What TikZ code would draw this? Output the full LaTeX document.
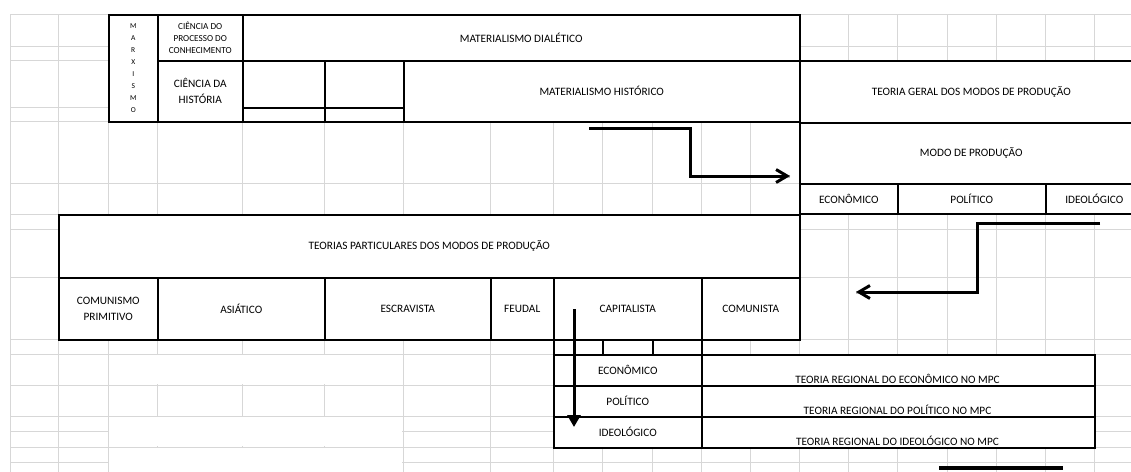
\documentclass[tikz,border=0pt]{standalone}
\usepackage{fontspec}
\setmainfont{Carlito}
\usetikzlibrary{arrows.meta}
\definecolor{gridgray}{RGB}{215,215,215}
\begin{document}
\begin{tikzpicture}[x=1pt,y=-1pt,
  gridline/.style={draw=gridgray,line width=1pt},
  cell/.style={draw=black,line width=1.5pt,fill=white,anchor=north west,inner sep=0pt,
    align=center,font=\fontsize{11.3}{15.5}\selectfont},
  lbl/.style={inner sep=0pt,align=center,font=\fontsize{11.3}{15.5}\selectfont},
  arr/.style={line width=3pt,-{Straight Barb[length=11pt,width=13pt]}},
  arrtri/.style={line width=3pt,-{Triangle[length=12pt,width=13pt]}},
  shadowline/.style={draw=black!25,line width=3pt}]
\useasboundingbox (0,0) rectangle (1131,471);
\clip (0,0) rectangle (1131,471);
% spreadsheet grid
\foreach \y in {14,46,60,107,121,183,214,229,277,339,354,385,416,431,447,462}
  \draw[gridline] (10,\y) -- (1145,\y);
\foreach \x in {10,58,108,157,242,324,403,490,553,602,652,701,750,799,848,897,947,996,1045,1094}
  \draw[gridline] (\x,14) -- (\x,480);
% merged cells without border
\fill[white] (108.6,354.6) rectangle (402.4,384.4);
\fill[white] (108.6,416.6) rectangle (402.4,446.4);
\fill[white] (108.6,447.6) rectangle (402.4,480);
% top block
\node[cell,minimum width=49pt,minimum height=107pt,font=\fontsize{7.5}{12}\selectfont] (marx) at (108,14) {M\\A\\R\\X\\I\\S\\M\\O};
\node[cell,minimum width=85pt,minimum height=46pt,font=\fontsize{9.2}{11.8}\selectfont] (cpc) at (157,14) {CIÊNCIA DO\\PROCESSO DO\\CONHECIMENTO};
\node[cell,minimum width=85pt,minimum height=61pt,font=\fontsize{11.3}{16}\selectfont] (ch) at (157,60) {CIÊNCIA DA\\HISTÓRIA};
\node[cell,minimum width=557pt,minimum height=46pt] (md) at (242,14) {MATERIALISMO DIALÉTICO};
\node[cell,minimum width=82pt,minimum height=47pt] (e1) at (242,60) {};
\node[cell,minimum width=82pt,minimum height=14pt] (e2) at (242,107) {};
\node[cell,minimum width=79pt,minimum height=47pt] (f1) at (324,60) {};
\node[cell,minimum width=79pt,minimum height=14pt] (f2) at (324,107) {};
\node[cell,minimum width=396pt,minimum height=61pt] (mh) at (403,60) {MATERIALISMO HISTÓRICO};
% right block
\node[cell,minimum width=343pt,minimum height=62pt] (tg) at (799,60) {TEORIA GERAL DOS MODOS DE PRODUÇÃO};
\node[cell,minimum width=343pt,minimum height=61pt] (mp) at (799,122) {MODO DE PRODUÇÃO};
\node[cell,minimum width=98pt,minimum height=30pt] (eco) at (799,183) {ECONÔMICO};
\node[cell,minimum width=148pt,minimum height=30pt] (pol) at (897,183) {POLÍTICO};
\node[cell,minimum width=97pt,minimum height=30pt] (ideo) at (1045,183) {IDEOLÓGICO};
% particular theories
\node[cell,minimum width=741pt,minimum height=63pt] (tp) at (58,214) {TEORIAS PARTICULARES DOS MODOS DE PRODUÇÃO};
\node[cell,minimum width=99pt,minimum height=62pt] (cp) at (58,277) {COMUNISMO\\PRIMITIVO};
\node[cell,minimum width=167pt,minimum height=62pt] (as) at (157,277) {ASIÁTICO};
\node[cell,minimum width=166pt,minimum height=62pt] (es) at (324,277) {ESCRAVISTA};
\node[cell,minimum width=63pt,minimum height=62pt] (fe) at (490,277) {FEUDAL};
\node[cell,minimum width=148pt,minimum height=62pt] (ca) at (553,277) {CAPITALISTA};
\node[cell,minimum width=98pt,minimum height=62pt] (co) at (701,277) {COMUNISTA};
\node[cell,minimum width=49pt,minimum height=15pt] (s1) at (553,339) {};
\node[cell,minimum width=50pt,minimum height=15pt] (s2) at (602,339) {};
\node[cell,minimum width=49pt,minimum height=15pt] (s3) at (652,339) {};
% regional theories
\node[cell,minimum width=148pt,minimum height=31pt] (reco) at (553,354) {ECONÔMICO};
\node[cell,minimum width=148pt,minimum height=31pt] (rpol) at (553,385) {POLÍTICO};
\node[cell,minimum width=148pt,minimum height=31pt] (rideo) at (553,416) {IDEOLÓGICO};
\node[cell,minimum width=393pt,minimum height=31pt] (treco) at (701,354) {};
\node[cell,minimum width=393pt,minimum height=31pt] (trpol) at (701,385) {};
\node[cell,minimum width=393pt,minimum height=31pt] (trideo) at (701,416) {};
\node[lbl,anchor=base] (treco-t) at (897.5,383) {TEORIA REGIONAL DO ECONÔMICO NO MPC};
\node[lbl,anchor=base] (trpol-t) at (897.5,414) {TEORIA REGIONAL DO POLÍTICO NO MPC};
\node[lbl,anchor=base] (trideo-t) at (897.5,445) {TEORIA REGIONAL DO IDEOLÓGICO NO MPC};
% arrows
\coordinate (a1s) at (589,128);
\coordinate (a1a) at (690,128);
\coordinate (a1b) at (690,176);
\coordinate (a1e) at (790,176);
\coordinate (a2s) at (1100,223);
\coordinate (a2a) at (977,223);
\coordinate (a2b) at (977,292);
\coordinate (a2e) at (856,292);
\coordinate (a3s) at (574,309);
\coordinate (a3e) at (574,427);
\coordinate (bs) at (939,468);
\coordinate (be) at (1063,468);
\begin{scope}[shift={(1.5,1.5)}]
\draw[shadowline] (a1s) -- (a1a) -- (a1b) -- (a1e);
\draw[shadowline] (a2s) -- (a2a) -- (a2b) -- (a2e);
\end{scope}
\draw[arr] (a1s) -- (a1a) -- (a1b) -- (a1e);
\draw[arr] (a2s) -- (a2a) -- (a2b) -- (a2e);
\draw[arrtri] (a3s) -- (a3e);
\draw[line width=3.5pt] (bs) -- (be);
\end{tikzpicture}
\end{document}
